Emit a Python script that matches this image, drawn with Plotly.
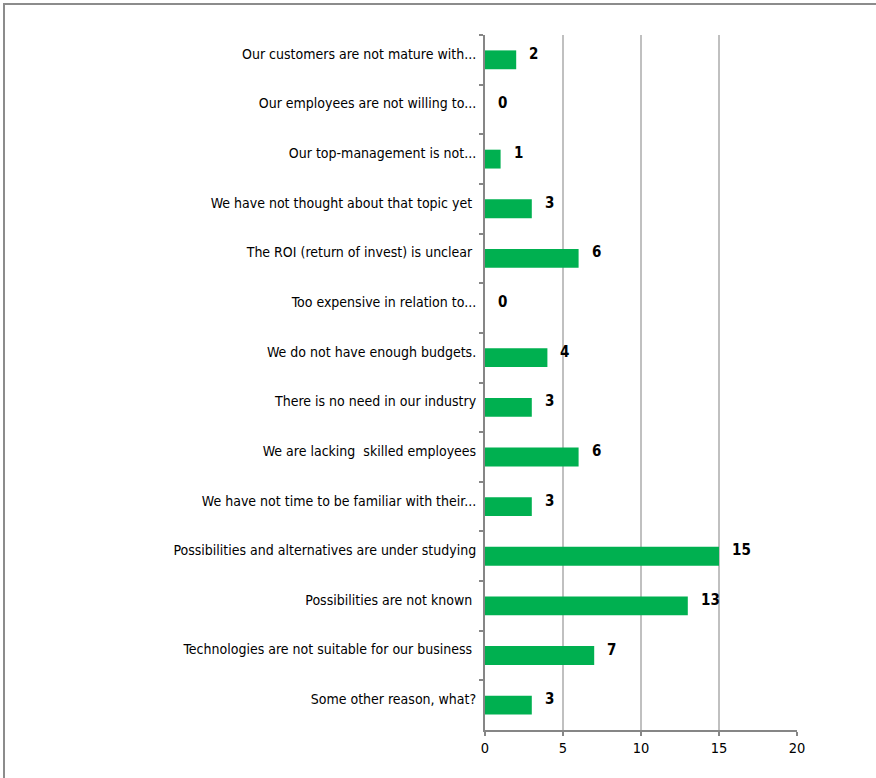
import plotly.graph_objects as go

categories = [
    "Our customers are not mature with...",
    "Our employees are not willing to...",
    "Our top-management is not...",
    "We have not thought about that topic yet\u00a0",
    "The ROI (return of invest) is unclear\u00a0",
    "Too expensive in relation to...",
    "We do not have enough budgets.",
    "There is no need in our industry",
    "We are lacking  skilled employees",
    "We have not time to be familiar with their...",
    "Possibilities and alternatives are under studying",
    "Possibilities are not known\u00a0",
    "Technologies are not suitable for our business\u00a0",
    "Some other reason, what?",
]
values = [2, 0, 1, 3, 6, 0, 4, 3, 6, 3, 15, 13, 7, 3]
x_ticks = [0, 5, 10, 15, 20]

FONT = "Liberation Sans Narrow, Arial Narrow, DejaVu Sans Condensed, sans-serif"

fig = go.Figure(go.Bar(
    x=values, y=categories, orientation="h",
    marker=dict(color="#00B050", line=dict(width=0)),
    hoverinfo="skip",
))

for c, v in zip(categories, values):
    fig.add_annotation(x=v, y=c, text="<b>%d</b>" % v, showarrow=False,
                       xanchor="left", xshift=11, yshift=6,
                       font=dict(family=FONT, size=15, color="#000000"))

L, R, T, B = 485, 79, 35, 48
W, H = 876, 778
pw, ph = W - L - R, H - T - B
fig.add_shape(type="rect", xref="paper", yref="paper",
              x0=(4 - L) / pw, x1=(W + 10 - L) / pw,
              y0=-(B + 10) / ph, y1=1 + (T - 4) / ph,
              line=dict(color="#8c8c8c", width=2), fillcolor="rgba(0,0,0,0)", layer="below")

fig.update_layout(
    width=W, height=H,
    margin=dict(l=L, r=R, t=T, b=B),
    paper_bgcolor="white", plot_bgcolor="white",
    bargap=0.62, showlegend=False,
    font=dict(family=FONT, size=14, color="#000000"),
    xaxis=dict(range=[0, 20], tickvals=x_ticks, showgrid=True, gridcolor="#c0c0c0", gridwidth=2,
               showline=True, linecolor="#868686", linewidth=2, ticks="outside", ticklen=4,
               tickwidth=2, tickcolor="#868686", zeroline=False, automargin=False,
               tickfont=dict(family=FONT, size=14.5)),
    yaxis=dict(autorange="reversed", showline=True, linecolor="#868686", linewidth=2,
               ticks="outside", ticklen=4, tickwidth=2, tickcolor="#868686",
               tickson="boundaries", showgrid=False, automargin=False,
               ticklabelshift=6, ticklabelstandoff=4,
               tickfont=dict(family=FONT, size=14)),
)

fig.write_html("out.html")
